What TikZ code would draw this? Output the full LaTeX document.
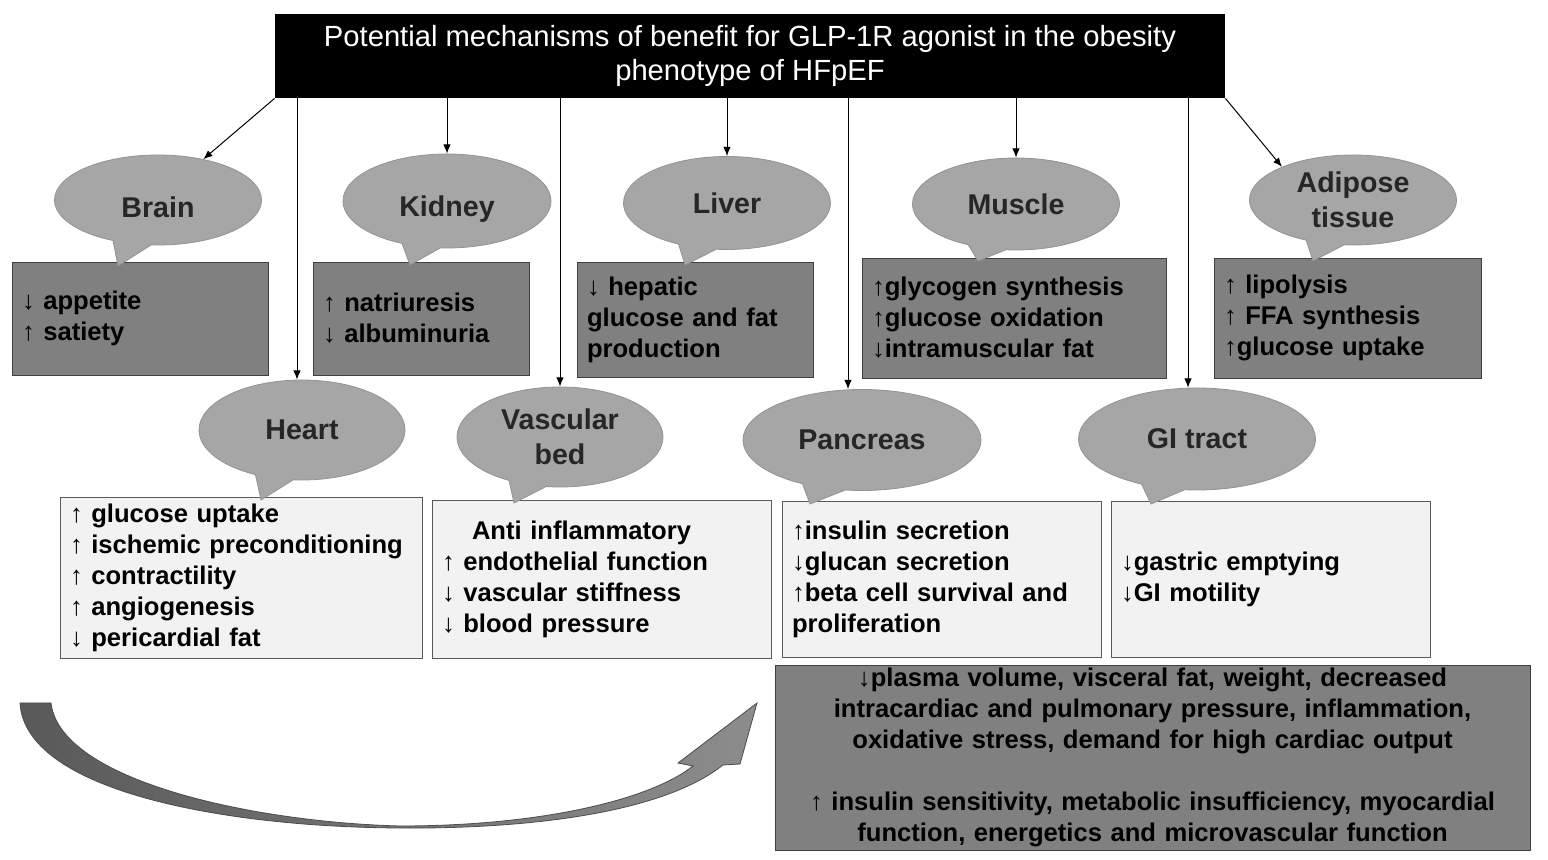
\documentclass[tikz,border=0pt]{standalone}
\usepackage{fontspec}
\setmainfont{Liberation Sans}
\usepackage{tikz}
\usetikzlibrary{arrows.meta,positioning,shapes.callouts}

\begin{document}
\begin{tikzpicture}[
      x=0.5pt,y=-0.5pt,
      head/.style={rectangle,fill=black,text=white,align=center,minimum width=475pt,minimum height=42pt,font=\fontsize{14.6}{17}\selectfont},
      organ/.style={ellipse callout,callout pointer arc=22,fill=gray!70,draw=gray!85,inner sep=0pt,align=center,text=black!85,font=\fontsize{14.3}{17.5}\selectfont\bfseries},
      dk/.style={rectangle,fill=gray,draw=black!75,align=left,inner xsep=5pt,font=\fontsize{12.8}{15.5}\selectfont\bfseries},
      lt/.style={rectangle,fill=gray!10,draw=black!65,align=left,inner xsep=5pt,font=\fontsize{12.8}{15.5}\selectfont\bfseries},
      arrow/.style={-{Latex[length=1.6mm,width=1.3mm]},line width=0.5pt}
    ]
    \useasboundingbox (0,0) rectangle (1548,860);
    \node[head] (title) at (750,56) {Potential mechanisms of benefit for GLP-1R agonist in the obesity\\phenotype of HFpEF};

    % upper row of boxes
    \node[dk,minimum width=128pt,minimum height=56.5pt,text width=118pt] (brainbox) at (140,318.5) {↓ appetite\\↑ satiety};
    \node[dk,minimum width=108pt,minimum height=56.5pt,text width=98pt] (kidneybox) at (421,318.5) {↑ natriuresis\\↓ albuminuria};
    \node[dk,minimum width=118pt,minimum height=57.5pt,text width=108pt] (liverbox) at (695,319.5) {↓ hepatic\\glucose and fat\\production};
    \node[dk,minimum width=152pt,minimum height=60pt,text width=142pt] (musclebox) at (1014,318) {↑glycogen synthesis\\↑glucose oxidation\\↓intramuscular fat};
    \node[dk,minimum width=133.5pt,minimum height=60pt,text width=123.5pt] (adiposebox) at (1347.5,318) {↑ lipolysis\\↑ FFA synthesis\\↑glucose uptake};

    % lower row of boxes
    \node[lt,minimum width=181pt,minimum height=80pt,text width=171pt] (heartbox) at (241,578) {↑ glucose uptake\\↑ ischemic preconditioning\\↑ contractility\\↑ angiogenesis\\↓ pericardial fat};
    \node[lt,minimum width=169.5pt,minimum height=79pt,text width=159.5pt] (vascbox) at (601.5,579) {\hspace*{15pt}Anti inflammatory\\↑ endothelial function\\↓ vascular stiffness\\↓ blood pressure};
    \node[lt,minimum width=159.5pt,minimum height=78pt,text width=149.5pt] (pancbox) at (941.5,579) {↑insulin secretion\\↓glucan secretion\\↑beta cell survival and\\proliferation};
    \node[lt,minimum width=159.5pt,minimum height=78pt,text width=149.5pt] (gibox) at (1270.5,579) {↓gastric emptying\\↓GI motility};

    \node[dk,align=center,inner ysep=0pt,minimum width=377.5pt,minimum height=92.5pt,text width=367.5pt] (summary) at (1152.5,757.5) {↓plasma volume, visceral fat, weight, decreased\\intracardiac and pulmonary pressure, inflammation,\\oxidative stress, demand for high cardiac output\\[15.5pt]↑ insulin sensitivity, metabolic insufficiency, myocardial\\function, energetics and microvascular function};

    % organ bubbles
    \node[organ,minimum width=103.5pt,minimum height=45pt,callout absolute pointer={(118,266)}] (brain) at (158,200) {\raisebox{-3.5pt}[\height][\depth]{Brain}};
    \node[organ,minimum width=104pt,minimum height=47pt,callout absolute pointer={(410,265)}] (kidney) at (447,201) {\raisebox{-4pt}[\height][\depth]{Kidney}};
    \node[organ,minimum width=103.5pt,minimum height=46.5pt,callout absolute pointer={(685,265)}] (liver) at (727,203) {Liver};
    \node[organ,minimum width=103.5pt,minimum height=46pt,callout absolute pointer={(978,261)}] (muscle) at (1016,204) {Muscle};
    \node[organ,minimum width=103.5pt,minimum height=45pt,callout absolute pointer={(1313,261)}] (adipose) at (1353,200) {Adipose\\tissue};
    \node[organ,minimum width=103pt,minimum height=50pt,callout absolute pointer={(261,500)}] (heart) at (302,430) {Heart};
    \node[organ,minimum width=103pt,minimum height=50pt,callout absolute pointer={(514,503)}] (vasc) at (560,437) {Vascular\\bed};
    \node[organ,minimum width=119pt,minimum height=50.5pt,callout absolute pointer={(810,504)}] (panc) at (862,440) {Pancreas};
    \node[organ,minimum width=118.5pt,minimum height=51pt,callout absolute pointer={(1151,504)}] (gi) at (1197,439) {GI tract};

    % arrows from the title
    \coordinate (h) at ([xshift=-2.5pt]heart.north);
    \coordinate (p) at ([xshift=-7pt]panc.north);
    \coordinate (g) at ([xshift=-4.5pt]gi.north);
    \draw[arrow] (title.south west) -- (brain.42);
    \draw[arrow] (title.south -| h) -- (h);
    \draw[arrow] (title.south -| kidney.north) -- (kidney.north);
    \draw[arrow] (title.south -| vasc.north) -- (vasc.north);
    \draw[arrow] (title.south -| liver.north) -- (liver.north);
    \draw[arrow] (title.south -| p) -- (p);
    \draw[arrow] (title.south -| muscle.north) -- (muscle.north);
    \draw[arrow] (title.south -| g) -- (g);
    \draw[arrow] (title.south east) -- (adipose.155);

    % big curved arrow
    \draw[draw=black!70,line width=0.4pt,left color=black!65,right color=black!45]
      (20,703) -- (51,703)
      .. controls (60,780) and (250,822) .. (400,826)
      .. controls (540,826) and (650,800) .. (693,766)
      -- (678,763) -- (757,703) -- (740,764) -- (723,765)
      .. controls (660,815) and (520,829) .. (400,828)
      .. controls (220,827) and (25,790) .. (20,703) -- cycle;
  \end{tikzpicture}
\end{document}
